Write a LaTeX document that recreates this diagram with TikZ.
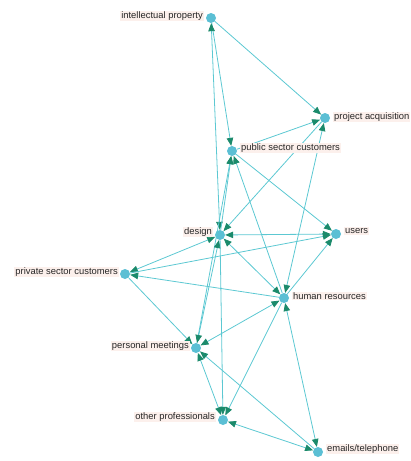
\documentclass[tikz,border=0pt]{standalone}
\usepackage{fontspec}
\setmainfont{Liberation Sans}
\usetikzlibrary{arrows.meta}
\definecolor{edgec}{HTML}{5CC8D2}
\definecolor{tipc}{HTML}{1B8A6B}
\definecolor{nodec}{HTML}{5BBFD4}
\definecolor{labbg}{HTML}{FCF0EC}
\begin{document}
\begin{tikzpicture}[x=1pt,y=-1pt,
  vtx/.style={circle,fill=nodec,minimum size=10pt,inner sep=0pt},
  lab/.style={font=\fontsize{9.4}{11}\selectfont,text=black!85,fill=labbg,inner sep=1pt},
  e/.style={draw=edgec,line width=0.8pt},
  uni/.style={e,-{Triangle[color=tipc,length=8pt,width=6.5pt]}},
  bi/.style={e,{Triangle[color=tipc,length=8pt,width=6.5pt]}-{Triangle[color=tipc,length=8pt,width=6.5pt]}}]
\useasboundingbox (0,0) rectangle (411,461);
% vertices
\node[vtx] (IP) at (211,18) {};
\node[vtx] (PA) at (325,118) {};
\node[vtx] (PSC) at (232,151) {};
\node[vtx] (D) at (220,235) {};
\node[vtx] (U) at (336,234) {};
\node[vtx] (PrSC) at (125,274) {};
\node[vtx] (HR) at (284,298) {};
\node[vtx] (PM) at (196,348) {};
\node[vtx] (OP) at (223,420) {};
\node[vtx] (ET) at (318,452) {};
% edges
\draw[uni] (IP) -- (PA);
\draw[uni] (IP) -- (PSC);
\draw[bi] (IP) -- (D);
\draw[uni] (PSC) -- (PA);
\draw[uni] (PA) -- (D);
\draw[bi] (PA) -- (HR);
\draw[uni] (D) -- (PSC);
\draw[uni] (HR) -- (PSC);
\draw[uni] (PM) -- (PSC);
\draw[uni] (PSC) -- (U);
\draw[bi] (D) -- (U);
\draw[bi] (PrSC) -- (D);
\draw[uni] (HR) -- (PrSC);
\draw[uni] (PrSC) -- (U);
\draw[uni] (PrSC) -- (PM);
\draw[bi] (D) -- (HR);
\draw[uni] (HR) -- (U);
\draw[bi] (D) -- (PM);
\draw[uni] (D) -- (OP);
\draw[bi] (PM) -- (HR);
\draw[uni] (HR) -- (OP);
\draw[bi] (PM) -- (OP);
\draw[uni] (ET) -- (PM);
\draw[bi] (HR) -- (ET);
\draw[bi] (OP) -- (ET);
% labels
\node[lab,anchor=east] (IPl) at (204,16) {intellectual property};
\node[lab,anchor=west] (PAl) at (333,117) {project acquisition};
\node[lab,anchor=west] (PSCl) at (240,148) {public sector customers};
\node[lab,anchor=east] (Dl) at (213,232) {design};
\node[lab,anchor=west] (Ul) at (344,231) {users};
\node[lab,anchor=east] (PrSCl) at (119,272) {private sector customers};
\node[lab,anchor=west] (HRl) at (292,296) {human resources};
\node[lab,anchor=east] (PMl) at (190,346) {personal meetings};
\node[lab,anchor=east] (OPl) at (216,417) {other professionals};
\node[lab,anchor=west] (ETl) at (326,449) {emails/telephone};
\end{tikzpicture}
\end{document}
